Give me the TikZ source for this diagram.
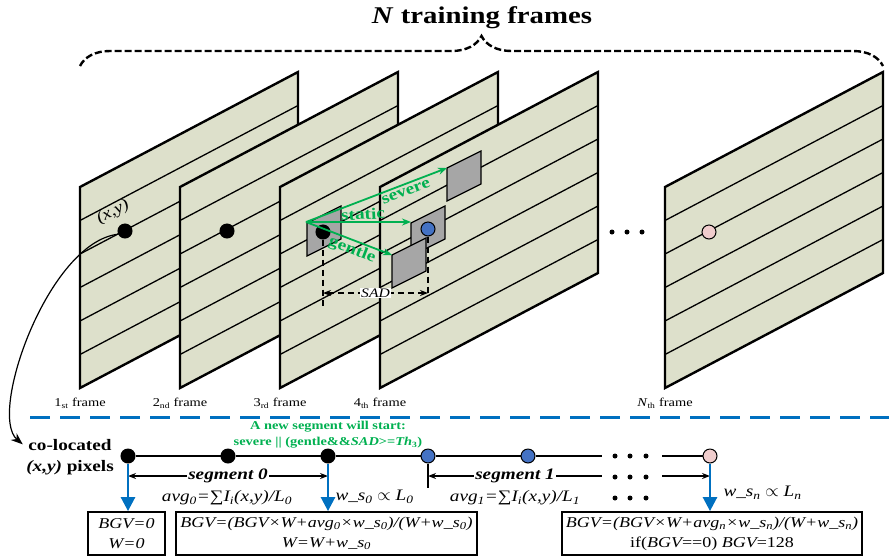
\documentclass[tikz,border=0pt]{standalone}
\usepackage{fontspec}
\setmainfont{Liberation Serif}[FakeStretch=1.2]
\usetikzlibrary{arrows.meta,decorations.pathreplacing}

\definecolor{framefill}{RGB}{221,224,203}
\definecolor{blockgray}{RGB}{166,166,166}
\definecolor{okgreen}{RGB}{0,176,80}
\definecolor{lineblue}{RGB}{0,112,192}
\definecolor{dotblue}{RGB}{68,114,196}
\definecolor{dotpink}{RGB}{240,205,205}

\begin{document}
\begin{tikzpicture}[x=1pt,y=-1pt,
>={Stealth[length=8pt,width=6pt]}]
    \tikzstyle{trainframe}=[draw=black,line width=2.4pt,fill=framefill]
    \tikzstyle{scanline}=[line width=1.3pt]
    \tikzstyle{block}=[draw=black,line width=1.2pt,fill=blockgray]
    \tikzstyle{pixel}=[circle,draw=black,line width=1pt,minimum size=14pt,inner sep=0pt,fill=black]
    \tikzstyle{bpixel}=[pixel,fill=dotblue]
    \tikzstyle{ppixel}=[pixel,fill=dotpink]
    \tikzstyle{small dot}=[circle,fill=black,minimum size=5pt,inner sep=0pt]
    \tikzstyle{motion}=[draw=okgreen,line width=1.8pt,-{Stealth[length=9pt,width=7pt]}]
    \tikzstyle{motion label}=[text=okgreen,font=\fontsize{16}{18}\selectfont\bfseries,inner sep=0pt]
    \tikzstyle{flabel}=[font=\fontsize{12}{14}\selectfont]
    \tikzstyle{bluearrow}=[draw=lineblue,line width=2.6pt,-{Triangle[length=14pt,width=14pt]}]
    \tikzstyle{formula}=[font=\fontsize{16}{21}\selectfont\itshape]
    \tikzstyle{box}=[draw=black,line width=1.8pt,font=\fontsize{15}{20}\selectfont\itshape,align=center,minimum height=43pt,inner sep=2pt]
    \tikzstyle{seg}=[line width=1.6pt]
    \tikzstyle{sadline}=[line width=1.3pt,dash pattern=on 6pt off 4pt]

\useasboundingbox (0,0) rectangle (889,558);

% title and brace
\node[font=\fontsize{24}{28}\selectfont\bfseries] (title) at (482,18) {\textit{N} training frames};
\draw[decorate,decoration={brace,amplitude=30pt},line width=2.4pt,dash pattern=on 7pt off 3pt] (80,66) -- (883,66);

% training frames
\foreach \fx in {80,180,280,380,665}{
    \draw[trainframe] (\fx,187) -- ++(218,-115) -- ++(0,201) -- ++(-218,115) -- cycle;
    \foreach \k in {1,...,5}
        \draw[scanline] (\fx,187+33.5*\k) -- ++(218,-115);
};
\foreach \x in {612,627,642}
    \node[small dot] (fd\x) at (\x,232) {};

\node[flabel] (l1) at (80,403) {1\textsubscript{st} frame};
\node[flabel] (l2) at (180,403) {2\textsubscript{nd} frame};
\node[flabel] (l3) at (280,403) {3\textsubscript{rd} frame};
\node[flabel] (l4) at (380,403) {4\textsubscript{th} frame};
\node[flabel] (lN) at (665,403) {\textit{N}\textsubscript{th} frame};

% search blocks
\foreach \px/\py in {307/223,411/223,392/255,447/168}
    \draw[block] (\px,\py) -- ++(34,-17) -- ++(0,33) -- ++(-34,17) -- cycle;

\node[pixel] (p1) at (125,231) {};
\node[pixel] (p2) at (227,231) {};
\node[pixel] (p3) at (323,232) {};
\node[bpixel] (p4) at (428,229) {};
\node[ppixel] (pN) at (709,232) {};

\node[font=\fontsize{16}{18}\selectfont,rotate=28,inner sep=0pt] (xy) at (113,212) {\textit{(x,y)}};

% SAD
\coordinate (sadL) at (323,293);
\coordinate (sadR) at (428,293);
\draw[sadline] (p3) -- ++(0,76);
\draw[sadline] (p4) -- ++(0,66);
\draw[sadline,<->] (sadL) -- (sadR) node[midway,fill=white,inner sep=1pt,font=\fontsize{13}{15}\selectfont\itshape] (sad) {SAD};

% motion types
\coordinate (src) at (306,222);
\coordinate (sev) at (447,168);
\coordinate (sta) at (411,222);
\coordinate (gen) at (392,255);
\draw[motion] (src) -- (sev);
\draw[motion] (src) -- (sta);
\draw[motion] (src) -- (gen);
\node[motion label,rotate=21] (lsev) at (406,192) {severe};
\node[motion label,rotate=3] (lsta) at (363,214) {static};
\node[motion label,rotate=-21] (lgen) at (352,250) {gentle};

% separator
\coordinate (sepL) at (30,417);
\coordinate (sepR) at (889,417);
\draw[draw=lineblue,line width=3pt,dash pattern=on 20pt off 10pt] (sepL) -- (sepR);

\node[text=okgreen,font=\fontsize{12}{16}\selectfont\bfseries,align=center] (rule) at (328,435)
    {A new segment will start:\\severe || (gentle\&\&\textit{SAD}>=\textit{Th}\textsubscript{3})};

% co-located pixels
\node[font=\fontsize{16}{21}\selectfont\bfseries,align=center] (coloc) at (70,457) {co-located\\\textit{(x,y)} pixels};
\draw[line width=1.2pt,-{Stealth[length=12pt,width=9pt]}] (p1.205) .. controls +(-70,8) and +(-35,-30) .. (coloc.165);

\node[pixel] (t1) at (128,456) {};
\node[pixel] (t2) at (228,456) {};
\node[pixel] (t3) at (328,456) {};
\node[bpixel] (t4) at (428,456) {};
\node[bpixel] (t5) at (528,456) {};
\node[ppixel] (tN) at (710,456) {};
\coordinate (tend) at (602,456);
\coordinate (tstart) at (662,456);
\draw[seg] (t1) -- (t2) -- (t3) -- (t4) -- (t5) -- (tend);
\draw[seg] (tstart) -- (tN);
\foreach \y in {456,477,498}
    \foreach \x in {615,630,646}
        \node[small dot] (d\x\y) at (\x,\y) {};

% segments
\coordinate (srow) at (0,476);
\draw[seg,<->] (t1 |- srow) -- (t3 |- srow) node[midway,fill=white,inner sep=1pt,font=\fontsize{16}{18}\selectfont\bfseries\itshape] (s0) {segment 0};
\draw[seg] (t4) -- ++(0,32);
\draw[seg,<-] (t4 |- srow) -- (tend |- srow) node[midway,fill=white,inner sep=1pt,font=\fontsize{16}{18}\selectfont\bfseries\itshape] (s1) {segment 1};
\draw[seg,->] (tstart |- srow) -- (tN |- srow);

\node[formula] (avg0) at (227,498) {avg\textsubscript{0}=∑I\textsubscript{i}(x,y)/L\textsubscript{0}};
\node[formula,anchor=west] (ws0) at (332,497) {w\_s\textsubscript{0} $\propto$ L\textsubscript{0}};
\node[formula] (avg1) at (515,498) {avg\textsubscript{1}=∑I\textsubscript{i}(x,y)/L\textsubscript{1}};
\node[formula,anchor=west] (wsn) at (720,493) {w\_s\textsubscript{n} $\propto$ L\textsubscript{n}};

% background value updates
\node[box,minimum width=77pt] (b1) at (126.5,533.5) {BGV=0\\W=0};
\node[box,minimum width=301pt] (b2) at (326.5,533.5) {BGV=(BGV×W+avg\textsubscript{0}×w\_s\textsubscript{0})/(W+w\_s\textsubscript{0})\\W=W+w\_s\textsubscript{0}};
\node[box,minimum width=300pt] (b3) at (712,533.5) {BGV=(BGV×W+avg\textsubscript{n}×w\_s\textsubscript{n})/(W+w\_s\textsubscript{n})\\{\upshape if(}BGV{\upshape ==0)} BGV{\upshape =128}};

\draw[bluearrow] (t1) -- (t1 |- b1.north);
\draw[bluearrow] (t3) -- (t3 |- b2.north);
\draw[bluearrow] (tN) -- (tN |- b3.north);
\end{tikzpicture}
\end{document}
